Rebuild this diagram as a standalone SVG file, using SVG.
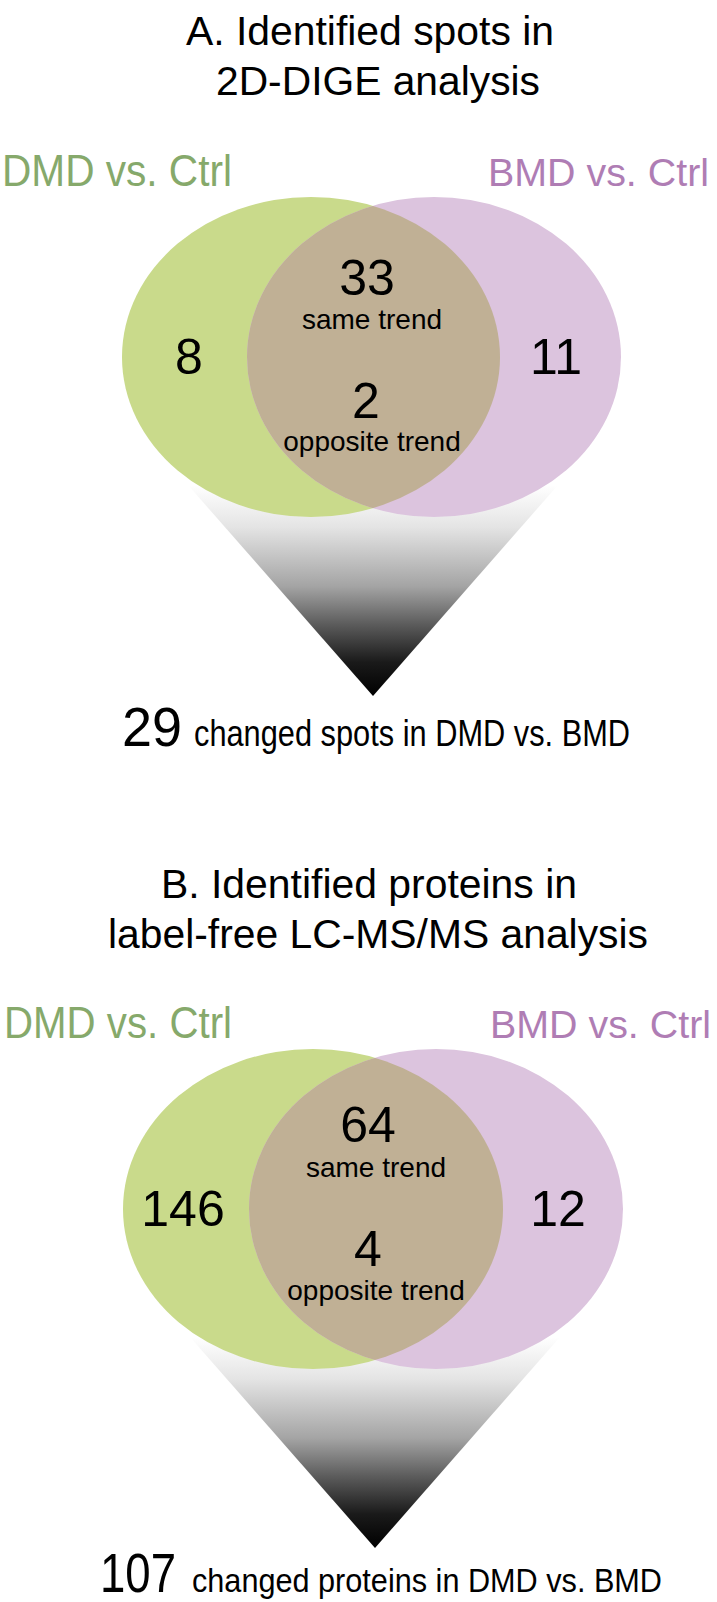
<svg xmlns="http://www.w3.org/2000/svg" width="717" height="1602" viewBox="0 0 717 1602">
<style>
.t{font-family:"Liberation Sans",Arial,sans-serif;fill:#000}
.title{font-size:41px}
.num{font-size:50px;text-anchor:middle}
.sub{font-size:28px;text-anchor:middle}
.lg{font-size:44px;fill:#86A96B}
.lp{font-size:39px;fill:#AF7DB4}
.big{font-size:56px}
.resA{font-size:37px}
.resB{font-size:33px}
.eg{fill:#C9DA8B}
.ep{fill:#DCC4DE}
.lens{fill:#C0B095}
</style>
<defs>
<linearGradient id="fadeA" gradientUnits="userSpaceOnUse" x1="0" y1="485" x2="0" y2="696">
<stop offset="0" stop-color="#ffffff"/>
<stop offset="0.2" stop-color="#e4e4e4"/>
<stop offset="0.48" stop-color="#a4a4a4"/>
<stop offset="0.66" stop-color="#5c5c5c"/>
<stop offset="0.84" stop-color="#1a1a1a"/>
<stop offset="1" stop-color="#000000"/>
</linearGradient>
<linearGradient id="fadeB" gradientUnits="userSpaceOnUse" x1="0" y1="1337" x2="0" y2="1548">
<stop offset="0" stop-color="#ffffff"/>
<stop offset="0.2" stop-color="#e4e4e4"/>
<stop offset="0.48" stop-color="#a4a4a4"/>
<stop offset="0.66" stop-color="#5c5c5c"/>
<stop offset="0.84" stop-color="#1a1a1a"/>
<stop offset="1" stop-color="#000000"/>
</linearGradient>
<clipPath id="clipA"><ellipse cx="434" cy="357" rx="187" ry="160"/></clipPath>
<clipPath id="clipB"><ellipse cx="436" cy="1209" rx="187" ry="160"/></clipPath>
</defs>
<rect x="0" y="0" width="717" height="1602" fill="#ffffff"/>

<g id="connectors">
<polygon id="funnelA" points="188,485 558,485 373,696" fill="url(#fadeA)"/>
<polygon id="funnelB" points="190,1337 560,1337 375,1548" fill="url(#fadeB)"/>
</g>

<g id="titleA">
<text class="t title" x="186" y="45" textLength="368" lengthAdjust="spacingAndGlyphs">A. Identified spots in</text>
<text class="t title" x="216" y="95" textLength="324" lengthAdjust="spacingAndGlyphs">2D-DIGE analysis</text>
</g>
<g id="labelA-DMD"><text class="t lg" x="2" y="186" textLength="230" lengthAdjust="spacingAndGlyphs">DMD vs. Ctrl</text></g>
<g id="labelA-BMD"><text class="t lp" x="488" y="186" textLength="221" lengthAdjust="spacingAndGlyphs">BMD vs. Ctrl</text></g>

<g id="vennA-DMD"><ellipse class="eg" cx="311" cy="357" rx="189" ry="160"/></g>
<g id="vennA-BMD"><ellipse class="ep" cx="434" cy="357" rx="187" ry="160"/></g>
<g id="vennA-overlap"><ellipse class="lens" cx="311" cy="357" rx="189" ry="160" clip-path="url(#clipA)"/></g>
<g id="vennA-texts">
<text class="t num" x="189" y="374">8</text>
<text class="t num" x="367" y="295">33</text>
<text class="t sub" x="372" y="329">same trend</text>
<text class="t num" x="366" y="418">2</text>
<text class="t sub" x="372" y="451">opposite trend</text>
<text class="t num" x="556" y="374">11</text>
</g>
<g id="resultA">
<text class="t big" x="122" y="746" textLength="60" lengthAdjust="spacingAndGlyphs">29</text>
<text class="t resA" x="194" y="746" textLength="436" lengthAdjust="spacingAndGlyphs">changed spots in DMD vs. BMD</text>
</g>

<g id="titleB">
<text class="t title" x="161" y="898" textLength="416" lengthAdjust="spacingAndGlyphs">B. Identified proteins in</text>
<text class="t title" x="108" y="948" textLength="540" lengthAdjust="spacingAndGlyphs">label-free LC-MS/MS analysis</text>
</g>
<g id="labelB-DMD"><text class="t lg" x="4" y="1038" textLength="228" lengthAdjust="spacingAndGlyphs">DMD vs. Ctrl</text></g>
<g id="labelB-BMD"><text class="t lp" x="490" y="1038" textLength="221" lengthAdjust="spacingAndGlyphs">BMD vs. Ctrl</text></g>

<g id="vennB-DMD"><ellipse class="eg" cx="313" cy="1209" rx="190" ry="160"/></g>
<g id="vennB-BMD"><ellipse class="ep" cx="436" cy="1209" rx="187" ry="160"/></g>
<g id="vennB-overlap"><ellipse class="lens" cx="313" cy="1209" rx="190" ry="160" clip-path="url(#clipB)"/></g>
<g id="vennB-texts">
<text class="t num" x="183" y="1226">146</text>
<text class="t num" x="368" y="1142">64</text>
<text class="t sub" x="376" y="1177">same trend</text>
<text class="t num" x="368" y="1266">4</text>
<text class="t sub" x="376" y="1300">opposite trend</text>
<text class="t num" x="558" y="1226">12</text>
</g>
<g id="resultB">
<text class="t big" x="100" y="1592" textLength="76" lengthAdjust="spacingAndGlyphs">107</text>
<text class="t resB" x="192" y="1592" textLength="470" lengthAdjust="spacingAndGlyphs">changed proteins in DMD vs. BMD</text>
</g>
</svg>
